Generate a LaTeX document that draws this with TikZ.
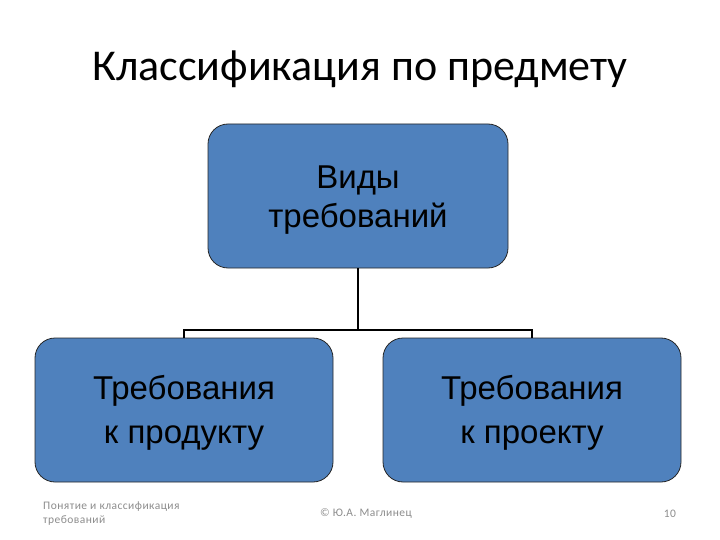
\documentclass[tikz,border=0pt]{standalone}
\usepackage{fontspec}
\setmainfont{Carlito}
\newfontfamily\boxfont{Liberation Sans}
\newfontfamily\footfont[LetterSpace=4]{Carlito}
\definecolor{boxblue}{HTML}{4F81BD}
\definecolor{footgray}{HTML}{8C8C8C}
\begin{document}
\begin{tikzpicture}[x=1pt,y=-1pt,
  blockbox/.style={draw=black!85, line width=0.8pt, fill=boxblue, rounded corners=20pt,
    minimum width=298pt, minimum height=144pt, inner sep=0pt},
  boxtext/.style={align=center, text=black, inner sep=0pt},
  link/.style={draw=black, line width=1.8pt},
  foot/.style={font=\footfont\fontsize{11.5}{14}\selectfont, text=footgray, inner sep=0pt}]
\useasboundingbox (0,0) rectangle (720,540);
\node[font=\fontsize{44}{52}\selectfont, inner sep=0pt] (title) at (360,69) {Классификация по предмету};
\node[blockbox, minimum width=300pt] (root) at (358,196) {};
\node[blockbox] (left) at (184,410) {};
\node[blockbox] (right) at (532,410) {};
\node[boxtext, font=\boxfont\fontsize{33}{39}\selectfont] (roottext) at (358,200) {Виды\\требований};
\node[boxtext, font=\boxfont\fontsize{33}{44}\selectfont] (lefttext) at (184,413) {Требования\\к продукту};
\node[boxtext, font=\boxfont\fontsize{33}{44}\selectfont] (righttext) at (532,413) {Требования\\к проекту};
\coordinate (mid) at (358,330);
\coordinate (lt) at (184,330);
\coordinate (rt) at (532,330);
\draw[link] (root.south) -- (mid);
\draw[link] (left.north) -- (lt) -- (rt) -- (right.north);
\node[foot, anchor=west, align=left] (f1) at (43,514) {Понятие и классификация\\требований};
\node[foot] (f2) at (366,514) {© Ю.А. Маглинец};
\node[foot] (f3) at (670,514) {10};
\end{tikzpicture}
\end{document}
